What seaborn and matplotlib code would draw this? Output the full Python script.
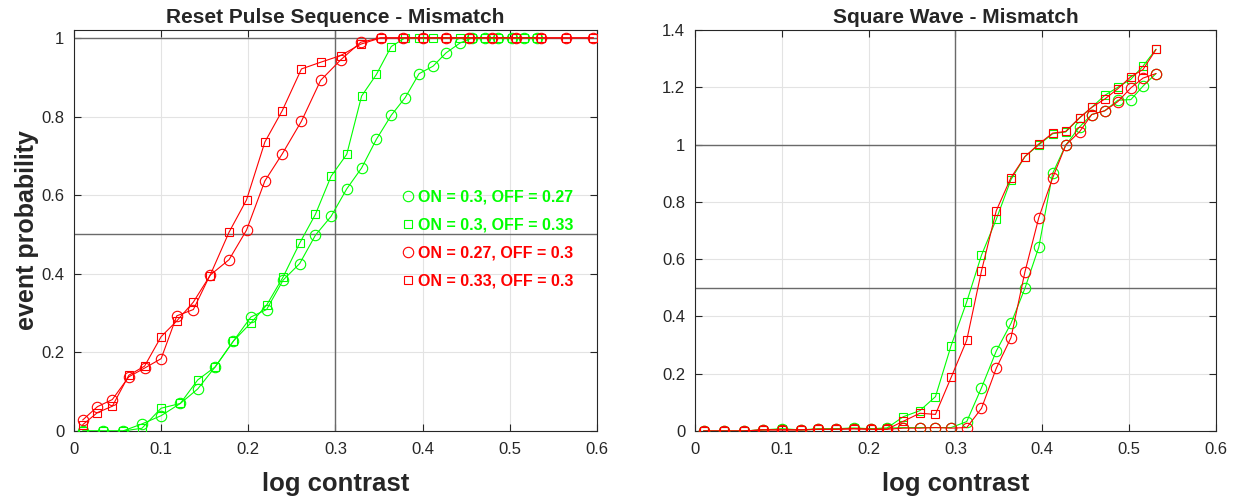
import matplotlib
matplotlib.use('Agg')
import matplotlib.pyplot as plt
from matplotlib.lines import Line2D
import seaborn as sns
import pandas as pd

# grids of log contrast values
x_red = [0.010, 0.027, 0.044, 0.063, 0.081, 0.100, 0.118, 0.137, 0.156, 0.178,
         0.198, 0.219, 0.239, 0.261, 0.283, 0.306, 0.329, 0.352, 0.377, 0.401,
         0.427, 0.453, 0.480, 0.507, 0.536, 0.565, 0.596]
x_mid = [0.010, 0.033, 0.056, 0.078, 0.100, 0.122, 0.142, 0.162, 0.183, 0.203,
         0.221, 0.240, 0.259, 0.277, 0.295, 0.313, 0.330, 0.347, 0.364, 0.380,
         0.396, 0.412, 0.427, 0.443, 0.457, 0.472, 0.487, 0.502, 0.516, 0.531]

# Reset Pulse Sequence - Mismatch
reset_on30_off27 = [0, 0, 0, 0.018, 0.039, 0.070, 0.107, 0.163, 0.229, 0.290,
                    0.309, 0.384, 0.426, 0.498, 0.546, 0.616, 0.669, 0.742, 0.803, 0.848,
                    0.909, 0.928, 0.962, 0.987, 1, 1, 1, 1, 1, 1]
reset_on30_off33 = [0, 0, 0, 0.007, 0.058, 0.070, 0.130, 0.163, 0.229, 0.275,
                    0.320, 0.392, 0.478, 0.551, 0.648, 0.704, 0.852, 0.907, 0.978, 1,
                    1, 1, 1, 1, 1, 1, 1, 1, 1, 1]
reset_on27_off30 = [0.028, 0.062, 0.080, 0.138, 0.160, 0.184, 0.293, 0.309, 0.396, 0.436,
                    0.511, 0.636, 0.705, 0.788, 0.892, 0.944, 0.989, 1, 1, 1,
                    1, 1, 1, 1, 1, 1, 1]
reset_on33_off30 = [0.016, 0.047, 0.063, 0.142, 0.165, 0.240, 0.280, 0.328, 0.395, 0.506,
                    0.588, 0.735, 0.815, 0.921, 0.938, 0.955, 0.984, 1, 1, 1,
                    1, 1, 1, 1, 1, 1, 1]

# Square Wave - Mismatch
square_on30_off27 = [0, 0, 0, 0.004, 0.008, 0.004, 0.006, 0.008, 0.010, 0.008,
                     0.010, 0.012, 0.012, 0.012, 0.012, 0.033, 0.151, 0.279, 0.376, 0.498,
                     0.642, 0.900, 0.998, 1.062, 1.105, 1.118, 1.155, 1.157, 1.204, 1.248]
square_on30_off33 = [0, 0, 0, 0.004, 0.006, 0.004, 0.008, 0.008, 0.010, 0.008,
                     0.010, 0.050, 0.071, 0.120, 0.298, 0.451, 0.614, 0.739, 0.878, 0.958,
                     0.999, 1.038, 1.044, 1.093, 1.130, 1.172, 1.200, 1.228, 1.274, 1.333]
square_on27_off30 = [0, 0, 0, 0.004, 0.004, 0.004, 0.006, 0.006, 0.008, 0.006,
                     0.006, 0.010, 0.010, 0.012, 0.010, 0.012, 0.079, 0.219, 0.326, 0.555,
                     0.745, 0.884, 0.998, 1.045, 1.105, 1.118, 1.150, 1.198, 1.232, 1.248]
square_on33_off30 = [0, 0, 0, 0.004, 0.004, 0.004, 0.006, 0.006, 0.008, 0.006,
                     0.006, 0.034, 0.062, 0.058, 0.187, 0.317, 0.559, 0.769, 0.885, 0.958,
                     1.002, 1.040, 1.046, 1.094, 1.130, 1.159, 1.195, 1.237, 1.262, 1.332]

labels = ['ON = 0.3, OFF = 0.27', 'ON = 0.3, OFF = 0.33',
          'ON = 0.27, OFF = 0.3', 'ON = 0.33, OFF = 0.3']
colors = ['#00ff00', '#00ff00', '#ff0000', '#ff0000']
markers = ['o', 's', 'o', 's']
msizes = [7.5, 5.5, 7.5, 5.5]

sns.set_style('ticks')
plt.rcParams['font.family'] = ['Liberation Sans', 'DejaVu Sans']

fig = plt.figure(figsize=(12.41, 5.01), dpi=100)
ax1 = fig.add_axes([0.0596, 0.1397, 0.4214, 0.8004])
ax2 = fig.add_axes([0.5600, 0.1397, 0.4198, 0.8004])

panels = [
    (ax1, 'Reset Pulse Sequence - Mismatch',
     [(x_mid, reset_on30_off27), (x_mid, reset_on30_off33),
      (x_red, reset_on27_off30), (x_red, reset_on33_off30)],
     1.02, [0, 0.2, 0.4, 0.6, 0.8, 1]),
    (ax2, 'Square Wave - Mismatch',
     [(x_mid, square_on30_off27), (x_mid, square_on30_off33),
      (x_mid, square_on27_off30), (x_mid, square_on33_off30)],
     1.4, [0, 0.2, 0.4, 0.6, 0.8, 1, 1.2, 1.4]),
]

for ax, title, series, ytop, yticks in panels:
    # reference lines
    ax.axhline(1, color='#6a6a6a', lw=1.0, zorder=1)
    ax.axhline(0.5, color='#6a6a6a', lw=1.0, zorder=1)
    ax.axvline(0.3, color='#6a6a6a', lw=1.0, zorder=1)

    for (xs, ys), lab, c, m, ms in zip(series, labels, colors, markers, msizes):
        df = pd.DataFrame({'x': xs, 'y': ys})
        sns.lineplot(data=df, x='x', y='y', ax=ax, sort=False, color=c, lw=0.8,
                     marker=m, markersize=ms, markerfacecolor='none',
                     markeredgecolor=c, markeredgewidth=0.8, zorder=3)

    ax.set_xlim(0, 0.6)
    ax.set_ylim(0, ytop)
    ax.set_xticks([0, 0.1, 0.2, 0.3, 0.4, 0.5, 0.6])
    ax.set_xticklabels(['0', '0.1', '0.2', '0.3', '0.4', '0.5', '0.6'])
    ax.set_yticks(yticks)
    ax.set_yticklabels([('%g' % v) for v in yticks])
    ax.grid(True, color='#e3e3e3', lw=0.8, zorder=0)
    ax.set_axisbelow(True)
    ax.tick_params(direction='in', length=5, width=0.8, top=True, right=True,
                   labelsize=12, colors='#262626')
    ax.tick_params(axis='x', pad=8)
    ax.tick_params(axis='y', pad=7)
    for sp in ax.spines.values():
        sp.set_visible(True)
        sp.set_color('#262626')
        sp.set_linewidth(0.8)
    ax.set_title(title, fontsize=15, fontweight='bold', pad=5)
    ax.set_xlabel('log contrast', fontsize=18.5, fontweight='bold', labelpad=11)
    ax.set_ylabel('')

ax1.set_ylabel('event probability', fontsize=18, fontweight='bold', labelpad=1.5)

handles = [Line2D([], [], linestyle='none', marker=m, markersize=ms,
                  markerfacecolor='none', markeredgecolor=c, markeredgewidth=0.8, color=c)
           for m, ms, c in zip(markers, msizes, colors)]
leg = ax1.legend(handles, labels, loc='center left', bbox_to_anchor=(0.608, 0.479),
                 frameon=False, borderpad=0, handlelength=1.0, handletextpad=0.15,
                 labelspacing=0.82, labelcolor='linecolor',
                 prop={'weight': 'bold', 'size': 11.5})

fig.savefig('out.png', dpi=100)
